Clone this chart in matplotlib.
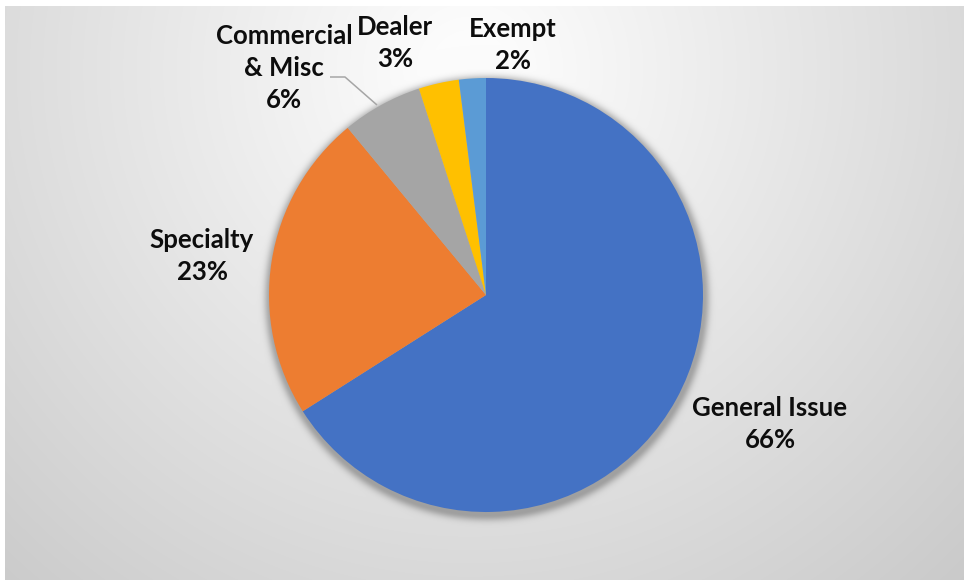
import numpy as np
import matplotlib
matplotlib.use("Agg")
import matplotlib.pyplot as plt

categories = ["General Issue", "Specialty", "Commercial\n& Misc", "Dealer", "Exempt"]
shares = [66, 23, 6, 3, 2]
pct_labels = ["66%", "23%", "6%", "3%", "2%"]
colors = ["#4472C4", "#ED7D31", "#A5A5A5", "#FFC000", "#5B9BD5"]

W, H = 964, 582
fig = plt.figure(figsize=(W / 100, H / 100), dpi=100, facecolor="white")
ax = fig.add_axes([0, 0, 1, 1])

# pie geometry (pixel units, y measured from top of image)
cx, cy, R = 486, 295, 217

# background radial gradient with soft shadow around pie
x0, x1, y0, y1 = 5, 964, 6, 580
xs = np.arange(x0, x1) + 0.5
ys = np.arange(y0, y1) + 0.5
X, Y = np.meshgrid(xs, ys)
r = np.hypot(X - 470, Y - 70)
g = 255 - 0.075 * r
g = np.clip(g, 190, 252)
d = np.hypot(X - (cx + 1), Y - (cy + 3)) - R
shadow = np.where(d > 0, 0.28 * np.exp(-(d / 6.0) ** 2), 0.28)
g = g * (1 - shadow)
img = np.dstack([g, g, g]) / 255.0
ax.imshow(img, extent=(x0, x1, H - y1, H - y0), origin="upper", zorder=0,
          interpolation="bilinear")

wedges, _ = ax.pie(shares, colors=colors, startangle=90, counterclock=False,
                   center=(cx, H - cy), radius=R,
                   wedgeprops=dict(linewidth=0, zorder=2))

font = dict(family=["Lato", "DejaVu Sans"], fontweight="bold", fontsize=18.5,
            color="#0D0D0D", ha="center", va="center", linespacing=1.38)

label_pos = [(770, 424), (202, 256), (284, 68), (395, 43), (513, 45)]
for cat, pct, (lx, ly) in zip(categories, pct_labels, label_pos):
    ax.text(lx, H - ly, f"{cat}\n{pct}", zorder=5, **font)

# leader line for Commercial & Misc
ax.plot([330, 345, 377], [H - 77, H - 77, H - 105], color="#A6A6A6", lw=1.1,
        zorder=4, solid_capstyle="butt")

ax.set_xlim(0, W)
ax.set_ylim(0, H)
ax.set_aspect("equal")
ax.axis("off")

fig.savefig("out.png", dpi=100, facecolor="white")
